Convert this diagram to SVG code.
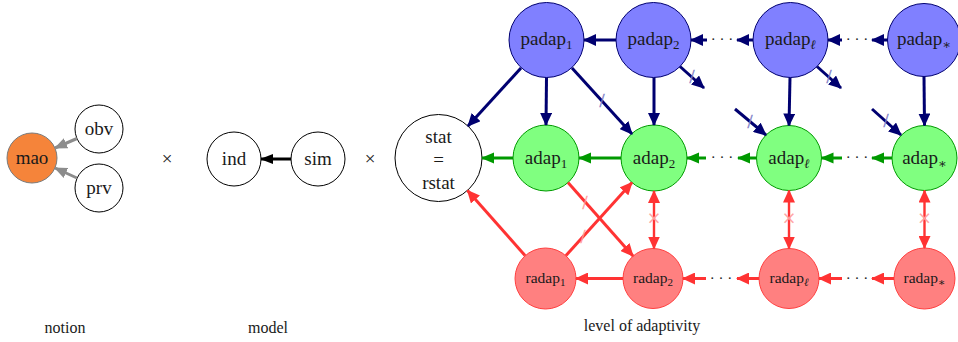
<svg xmlns="http://www.w3.org/2000/svg" width="958" height="342" viewBox="0 0 958 342">
<style>
text{font-family:"Liberation Serif","DejaVu Serif",serif;fill:#1a1a1a;text-anchor:middle}
.lbl{font-size:19px}
.sm{font-size:15.5px}
.cap{font-size:16px}
.sub{font-size:13px}
.subs{font-size:11px}
.dots{font-size:15px}
.plain{fill:#fff;stroke:#000;stroke-width:1}
.pad{fill:#8080ff;stroke:#000070;stroke-width:1}
.ad{fill:#80ff80;stroke:#009900;stroke-width:1}
.rad{fill:#ff8080;stroke:#ff4040;stroke-width:1}
.mao{fill:#f5843a;stroke:#7a7a7a;stroke-width:1}
.cn{fill:none;stroke-width:3}
.nv{stroke:#000070;marker-end:url(#an)}
.gr{stroke:#009900;marker-end:url(#ag)}
.rd{stroke:#ff3333;marker-end:url(#ar)}
.rdd{stroke:#ff3333;stroke-width:2.4;marker-end:url(#ar);marker-start:url(#ar)}
.gy{stroke:#8c8c8c;marker-end:url(#ay)}
.bk{stroke:#000;marker-end:url(#ak)}
.slb{fill:#8080c8;stroke:#8080c8;stroke-width:0.4;font-size:18px}
.slr{fill:#ff9a9a;stroke:#ff9a9a;stroke-width:0.4;font-size:18px}
.xr{fill:#ffa0a0;stroke:#ffa0a0;stroke-width:0.3;font-size:23px}
</style>
<defs>
<marker id="an" markerUnits="userSpaceOnUse" viewBox="0 0 13 12" markerWidth="13" markerHeight="12" refX="12" refY="6" orient="auto-start-reverse"><path d="M0,0 L13,6 L0,12 Z" fill="#000070"/></marker>
<marker id="ag" markerUnits="userSpaceOnUse" viewBox="0 0 13 12" markerWidth="13" markerHeight="12" refX="12" refY="6" orient="auto-start-reverse"><path d="M0,0.5 L13,6 L0,11.5 Z" fill="#009900"/></marker>
<marker id="ar" markerUnits="userSpaceOnUse" viewBox="0 0 13 12" markerWidth="13" markerHeight="12" refX="12" refY="6" orient="auto-start-reverse"><path d="M0,0 L13,6 L0,12 Z" fill="#ff3333"/></marker>
<marker id="ay" markerUnits="userSpaceOnUse" viewBox="0 0 13 12" markerWidth="13" markerHeight="12" refX="12" refY="6" orient="auto-start-reverse"><path d="M0,0.5 L13,6 L0,11.5 Z" fill="#8c8c8c"/></marker>
<marker id="ak" markerUnits="userSpaceOnUse" viewBox="0 0 13 12" markerWidth="13" markerHeight="12" refX="12" refY="6" orient="auto-start-reverse"><path d="M0,1 L13,6 L0,11 Z" fill="#000"/></marker>
</defs>

<g id="mao"><circle class="mao" cx="32" cy="158" r="25"/><text class="lbl" x="32" y="164">mao</text></g>
<g id="obv"><circle class="plain" cx="99" cy="129" r="24"/><text class="lbl" x="99" y="135">obv</text></g>
<g id="prv"><circle class="plain" cx="99" cy="188" r="24"/><text class="lbl" x="99" y="194">prv</text></g>
<g id="times1"><text class="lbl" x="167" y="165">×</text></g>
<g id="ind"><circle class="plain" cx="234" cy="159" r="27"/><text class="lbl" x="234" y="165">ind</text></g>
<g id="sim"><circle class="plain" cx="318" cy="159" r="27"/><text class="lbl" x="318" y="165">sim</text></g>
<g id="times2"><text class="lbl" x="370" y="165">×</text></g>

<g id="stat"><circle class="plain" cx="438.5" cy="158" r="43.5"/>
<text class="lbl" x="438.5" y="143">stat</text><text class="lbl" x="438.5" y="166">=</text><text class="lbl" x="438.5" y="189">rstat</text></g>

<g id="padap1"><circle class="pad" cx="546.5" cy="40" r="37.5"/><text class="lbl" x="546.5" y="45">padap<tspan class="sub" dy="4">1</tspan></text></g>
<g id="padap2"><circle class="pad" cx="653.5" cy="40" r="37.5"/><text class="lbl" x="653.5" y="45">padap<tspan class="sub" dy="4">2</tspan></text></g>
<g id="padapL"><circle class="pad" cx="790.5" cy="40" r="37.5"/><text class="lbl" x="790.5" y="45">padap<tspan class="sub" dy="4" font-style="italic">ℓ</tspan></text></g>
<g id="padapS"><circle class="pad" cx="924" cy="40" r="36.5"/><text class="lbl" x="924" y="45">padap<tspan class="sub" dy="4">∗</tspan></text></g>

<g id="adap1"><circle class="ad" cx="546" cy="158" r="33"/><text class="lbl" x="546" y="164">adap<tspan class="sub" dy="4">1</tspan></text></g>
<g id="adap2"><circle class="ad" cx="654" cy="158" r="33"/><text class="lbl" x="654" y="164">adap<tspan class="sub" dy="4">2</tspan></text></g>
<g id="adapL"><circle class="ad" cx="789" cy="158" r="32.5"/><text class="lbl" x="789" y="164">adap<tspan class="sub" dy="4" font-style="italic">ℓ</tspan></text></g>
<g id="adapS"><circle class="ad" cx="924.5" cy="158" r="32.5"/><text class="lbl" x="924.5" y="164">adap<tspan class="sub" dy="4">∗</tspan></text></g>

<g id="radap1"><circle class="rad" cx="545.5" cy="278.5" r="30.5"/><text class="sm" x="545.5" y="283">radap<tspan class="subs" dy="3">1</tspan></text></g>
<g id="radap2"><circle class="rad" cx="653" cy="278.5" r="30"/><text class="sm" x="653" y="283">radap<tspan class="subs" dy="3">2</tspan></text></g>
<g id="radapL"><circle class="rad" cx="789" cy="278.5" r="30"/><text class="sm" x="789" y="283">radap<tspan class="subs" dy="3" font-style="italic">ℓ</tspan></text></g>
<g id="radapS"><circle class="rad" cx="924.5" cy="278.5" r="30.5"/><text class="sm" x="924.5" y="283">radap<tspan class="subs" dy="3">∗</tspan></text></g>

<g id="dots">
<text class="dots" x="722" y="44">· · ·</text><text class="dots" x="857" y="44">· · ·</text>
<text class="dots" x="722" y="162">· · ·</text><text class="dots" x="857" y="162">· · ·</text>
<text class="dots" x="721" y="282.5">· · ·</text><text class="dots" x="857" y="282.5">· · ·</text>
</g>

<g id="labels">
<text class="cap" x="65" y="333">notion</text>
<text class="cap" x="268" y="333">model</text>
<text class="cap" x="642" y="331">level of adaptivity</text>
</g>

<g id="connectors">
<line class="cn gy" x1="77" y1="138.5" x2="55" y2="148"/>
<line class="cn gy" x1="77" y1="178" x2="55" y2="168"/>
<line class="cn bk" x1="291" y1="159" x2="261" y2="159"/>

<line class="cn nv" x1="616" y1="40" x2="584" y2="40"/>
<line class="cn nv" x1="707" y1="40" x2="691" y2="40"/>
<line class="cn nv" x1="753" y1="40" x2="737" y2="40"/>
<line class="cn nv" x1="842" y1="40" x2="828" y2="40"/>
<line class="cn nv" x1="887.5" y1="40" x2="872" y2="40"/>
<line class="cn nv" x1="521" y1="68" x2="468" y2="126"/>
<line class="cn nv" x1="546.5" y1="77.5" x2="546" y2="125"/>
<line class="cn nv" x1="572" y1="68" x2="632" y2="134"/>
<line class="cn nv" x1="654" y1="77.5" x2="654" y2="125"/>
<line class="cn nv" x1="680" y1="66.5" x2="704" y2="88"/>
<line class="cn nv" x1="790" y1="77.5" x2="789" y2="125.5"/>
<line class="cn nv" x1="817" y1="66.5" x2="841" y2="88"/>
<line class="cn nv" x1="735" y1="109" x2="766" y2="135"/>
<line class="cn nv" x1="872" y1="109" x2="901" y2="135"/>
<line class="cn nv" x1="924" y1="76.5" x2="924.5" y2="125.5"/>

<line class="cn gr" x1="513" y1="158" x2="482" y2="158"/>
<line class="cn gr" x1="621" y1="158" x2="579" y2="158"/>
<line class="cn gr" x1="706" y1="158" x2="687" y2="158"/>
<line class="cn gr" x1="756.5" y1="158" x2="738" y2="158"/>
<line class="cn gr" x1="842" y1="158" x2="821.5" y2="158"/>
<line class="cn gr" x1="892" y1="158" x2="872" y2="158"/>

<line class="cn rd" x1="525" y1="255.5" x2="467.5" y2="190.5"/>
<line class="cn rd" x1="566" y1="255.5" x2="632" y2="182.5"/>
<line class="cn rd" x1="568" y1="182.5" x2="633" y2="256"/>
<line class="cn rdd" x1="654" y1="191" x2="654" y2="248.5"/>
<line class="cn rdd" x1="789" y1="190.5" x2="789" y2="248.5"/>
<line class="cn rdd" x1="924.5" y1="190.5" x2="924.5" y2="248"/>
<line class="cn rd" x1="623" y1="278.5" x2="576" y2="278.5"/>
<line class="cn rd" x1="706" y1="278.5" x2="683" y2="278.5"/>
<line class="cn rd" x1="759" y1="278.5" x2="737" y2="278.5"/>
<line class="cn rd" x1="842" y1="278.5" x2="819" y2="278.5"/>
<line class="cn rd" x1="894" y1="278.5" x2="872" y2="278.5"/>

<text class="slb" x="602" y="107">/</text>
<text class="slb" x="692" y="83">/</text>
<text class="slb" x="829" y="83">/</text>
<text class="slb" x="750" y="128">/</text>
<text class="slb" x="886" y="127">/</text>
<text class="slr" x="585" y="209">/</text>
<text class="slr" x="583" y="243">/</text>
<text class="xr" x="654" y="226">×</text>
<text class="xr" x="789" y="226">×</text>
<text class="xr" x="924.5" y="226">×</text>
</g>
</svg>
